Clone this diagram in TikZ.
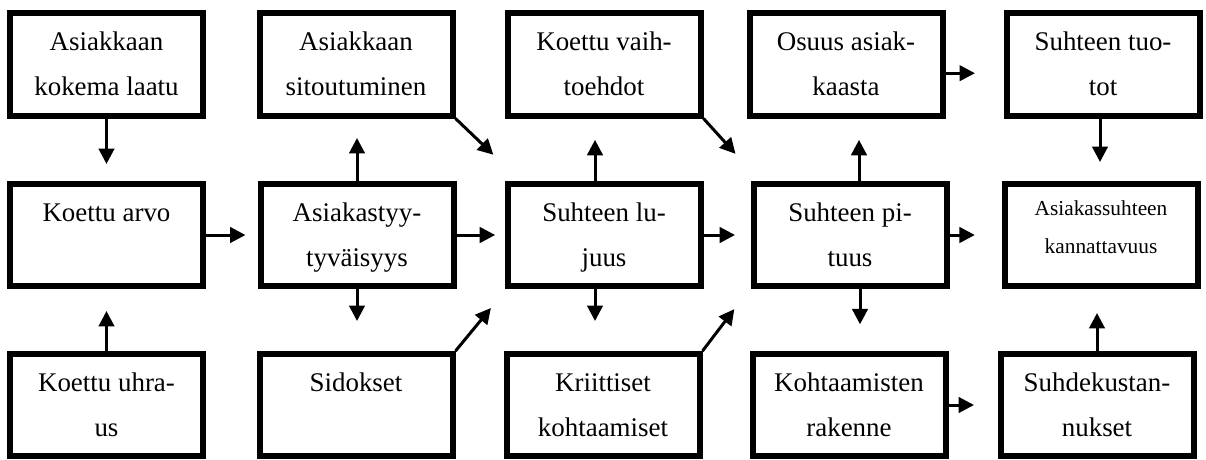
\documentclass[tikz,border=0pt]{standalone}
\usepackage{fontspec}
\setmainfont{Liberation Serif}
\usetikzlibrary{arrows.meta}

\tikzset{every picture/.style={line width=0.75pt}}
\tikzset{
  blk/.style={draw, line width=4.5pt, inner sep=0pt, minimum width=144.75pt, minimum height=76.5pt,
    text height=27.75pt, text depth=48.75pt, font=\fontsize{20.2pt}{33.75pt}\selectfont},
  blksmall/.style={blk, text height=23.25pt, text depth=53.25pt, font=\fontsize{16pt}{28.5pt}\selectfont},
  arr/.style={line width=2.25pt, -{Triangle[length=11.6pt,width=11.6pt]}}
}
\newcommand{\blktext}[1]{\parbox[t]{140pt}{\centering #1}}

\begin{document}
\begin{tikzpicture}[x=0.75pt,y=0.75pt,yscale=-1,xscale=1]
\useasboundingbox (0,0) rectangle (1206,460);

%Shape: Rectangle (top row)
\node[blk] (akl) at (106.5,64.5) {\blktext{Asiakkaan\\kokema laatu}};
\node[blk] (asi) at (356,64.5) {\blktext{Asiakkaan\\sitoutuminen}};
\node[blk] (kva) at (604,64.5) {\blktext{Koettu vaih-\\toehdot}};
\node[blk] (osu) at (846,64.5) {\blktext{Osuus asiak-\\kaasta}};
\node[blk] (stu) at (1103,64.5) {\blktext{Suhteen tuo-\\tot}};
%Shape: Rectangle (middle row)
\node[blk] (kar) at (106.5,235) {\blktext{Koettu arvo}};
\node[blk] (aty) at (357,235) {\blktext{Asiakastyy-\\tyväisyys}};
\node[blk] (slu) at (604,235) {\blktext{Suhteen lu-\\juus}};
\node[blk] (spi) at (850,235) {\blktext{Suhteen pi-\\tuus}};
\node[blksmall] (akk) at (1101,235) {\blktext{Asiakassuhteen\\kannattavuus}};
%Shape: Rectangle (bottom row)
\node[blk] (kuh) at (106.5,405) {\blktext{Koettu uhra-\\us}};
\node[blk] (sid) at (356,405) {\blktext{Sidokset}};
\node[blk] (kri) at (603,405) {\blktext{Kriittiset\\kohtaamiset}};
\node[blk] (kra) at (849,405) {\blktext{Kohtaamisten\\rakenne}};
\node[blk] (sku) at (1097,405) {\blktext{Suhdekustan-\\nukset}};

%Straight Lines (middle row)
\draw[arr, shorten >=9pt] (kar.east) -- (aty.west);
\draw[arr, shorten >=7pt] (aty.east) -- (slu.west);
\draw[arr, shorten >=11.6pt] (slu.east) -- (spi.west);
\draw[arr, shorten >=20pt] (spi.east) -- (akk.west);
%Straight Lines (top and bottom rows)
\draw[arr, shorten >=21.4pt] (osu.-5.6) -- (osu.-5.6 -| stu.west);
\draw[arr, shorten >=17.6pt] (kra.east) -- (sku.west);
%Straight Lines (verticals)
\draw[arr, shorten >=12.75pt] (akl.south) -- (kar.north);
\draw[arr, shorten >=16.5pt] (kuh.north) -- (kar.south);
\draw[arr, shorten >=14.6pt] (aty.north) -- (aty.north |- asi.south);
\draw[arr, shorten >=22.5pt] (aty.south) -- (aty.south |- sid.north);
\draw[arr, shorten >=16pt] ([xshift=-6.75pt]slu.north) -- ([xshift=-6.75pt]slu.north |- kva.south);
\draw[arr, shorten >=22.5pt] ([xshift=-6.75pt]slu.south) -- ([xshift=-6.75pt]slu.south |- kri.north);
\draw[arr, shorten >=16pt] ([xshift=6.75pt]spi.north) -- ([xshift=6.75pt]spi.north |- osu.south);
\draw[arr, shorten >=20pt] ([xshift=7.5pt]spi.south) -- ([xshift=7.5pt]spi.south |- kra.north);
\draw[arr, shorten >=14.25pt] ([xshift=-2.25pt]stu.south) -- ([xshift=-2.25pt]stu.south |- akk.north);
\draw[arr, shorten >=18pt] (sku.north) -- (sku.north |- akk.south);
%Straight Lines (diagonals)
\draw[arr, shorten >=28.5pt] (asi.south east) -- (slu.147);
\draw[arr, shorten >=27.5pt] (kva.south east) -- (spi.149);
\draw[arr, shorten >=18.5pt] (sid.north east) -- (slu.209);
\draw[arr, shorten >=20pt] (kri.north east) -- (spi.208);

\end{tikzpicture}
\end{document}
